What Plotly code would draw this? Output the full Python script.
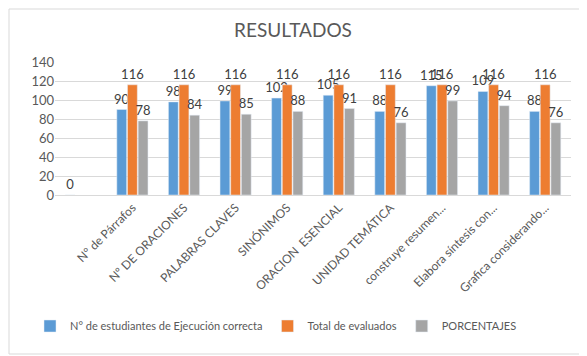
import plotly.graph_objects as go

categories = [" ", "N° de Párrafos", "Nº DE ORACIONES", "PALABRAS CLAVES", "SINÓNIMOS",
              "ORACION  ESENCIAL", "UNIDAD TEMÁTICA", "construye resumen...",
              "Elabora síntesis con...", "Grafica considerando..."]
correctos = [0, 90, 98, 99, 102, 105, 88, 115, 109, 88]
evaluados = [None, 116, 116, 116, 116, 116, 116, 116, 116, 116]
porcentajes = [None, 78, 84, 85, 88, 91, 76, 99, 94, 76]

series = [
    ("N° de estudiantes de Ejecución correcta", correctos, "#5B9BD5"),
    ("Total de evaluados", evaluados, "#ED7D31"),
    ("PORCENTAJES", porcentajes, "#A5A5A5"),
]

FONT = "Lato, 'Open Sans', sans-serif"
fig = go.Figure()
for name, vals, color in series:
    fig.add_trace(go.Bar(
        x=categories, y=vals, name=name, marker_color=color,
        text=[("" if v is None else str(v)) for v in vals],
        textposition="outside", cliponaxis=False,
        textfont=dict(size=13, color="#404040", family=FONT),
    ))

# page body has an 8px margin, so the figure is drawn from (8, 8)
OFF = 8
W, H = 587 - OFF, 356 - OFF
ml, mr, mt, mb = 55 - OFF, 16, 62 - OFF, 161
pw, ph = W - ml - mr, H - mt - mb

fig.update_layout(
    width=W, height=H,
    margin=dict(l=ml, r=mr, t=mt, b=mb),
    paper_bgcolor="white", plot_bgcolor="white",
    barmode="group", bargap=0.38, bargroupgap=0.08,
    uniformtext=dict(minsize=13, mode="show"),
    font=dict(family=FONT, color="#595959", size=12),
    title=dict(text="RESULTADOS", x=(293 - OFF) / W, xanchor="center",
               y=1 - (30 - OFF) / H, yanchor="middle",
               font=dict(size=19, color="#595959", family=FONT)),
    showlegend=True,
    legend=dict(orientation="h", xref="container", yref="container",
                x=(30 - OFF) / W, xanchor="left", y=1 - (326 - OFF) / H, yanchor="middle",
                font=dict(size=11, color="#595959", family=FONT), traceorder="normal",
                itemwidth=30),
    yaxis=dict(range=[0, 140], dtick=20, showgrid=True, gridcolor="#D9D9D9", gridwidth=1,
               zeroline=False, showline=False, ticks="", automargin=False,
               tickfont=dict(size=13, color="#595959")),
    xaxis=dict(type="category", tickangle=-45, showline=True, linecolor="#D9D9D9",
               ticks="", automargin=False, tickfont=dict(size=12, color="#595959")),
    shapes=[dict(type="rect", xref="paper", yref="paper",
                 x0=-(ml - 1) / pw, x1=(W - ml - 2) / pw,
                 y0=-(mb - 2) / ph, y1=(ph + mt - 1) / ph,
                 line=dict(color="#D9D9D9", width=1))],
)

fig.write_html("out.html")
